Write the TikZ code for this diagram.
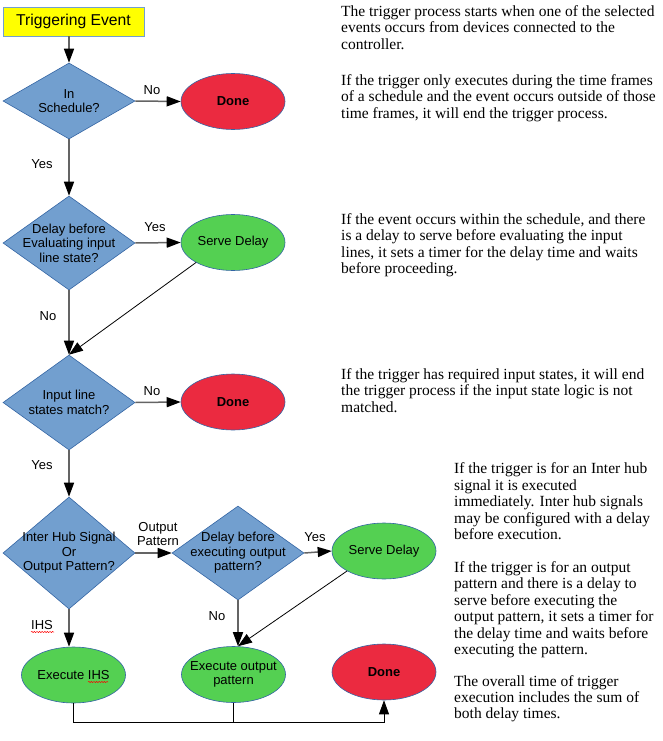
\documentclass[tikz,border=0pt]{standalone}
\usepackage{fontspec}
\setmainfont{Liberation Serif}
\newfontfamily\diafont{Liberation Sans}
\usetikzlibrary{shapes.geometric,arrows.meta,decorations.pathmorphing}
\definecolor{diafill}{RGB}{114,159,207}
\definecolor{diaedge}{RGB}{52,101,164}
\definecolor{redfill}{RGB}{235,42,64}
\definecolor{greenfill}{RGB}{84,208,82}
\definecolor{yellowfill}{RGB}{255,255,0}
\definecolor{linegray}{RGB}{100,100,100}
\begin{document}
\begin{tikzpicture}[x=1pt,y=-1pt,
  font=\diafont\fontsize{13}{14.5}\selectfont,
  dec/.style={diamond, draw=diaedge, fill=diafill, inner sep=0pt, minimum width=132pt, line width=0.6pt},
  term/.style={ellipse, draw=diaedge, fill=#1, minimum width=104pt, minimum height=56pt, inner sep=0pt, line width=0.6pt},
  startbox/.style={rectangle, draw=diafill, fill=yellowfill, minimum width=141pt, minimum height=29pt, inner sep=0pt, line width=0.8pt, font=\diafont\fontsize{15.7}{17}\selectfont},
  conn/.style={draw=linegray, line width=1.5pt, -{Triangle[length=14pt,width=10pt,color=black]}},
  diag/.style={draw=black, line width=0.8pt, -{Triangle[length=14pt,width=10pt,color=black]}},
  plain/.style={draw=black, line width=0.8pt},
  lab/.style={inner sep=0pt, align=center},
  para/.style={anchor=north west, inner sep=0pt, align=left, font=\rmfamily\fontsize{15.5}{16.4}\selectfont},
  squig/.style={draw=red, line width=0.5pt, decorate, decoration={snake, amplitude=0.6pt, segment length=2.6pt}}
]
\useasboundingbox (0,0) rectangle (663,741);

% nodes
\node[startbox] (trig) at (73.5,21.5) {Triggering Event};
\node[dec, minimum height=76pt, label={[align=center]center:{In\\Schedule?}}] (d1) at (69,101) {};
\node[term=redfill, label={[font=\diafont\bfseries\fontsize{13}{14.5}\selectfont]center:Done}] (done1) at (233,101.5) {};
\node[dec, minimum height=94pt, label={[align=center]center:{Delay before\\Evaluating input\\line state?}}] (d2) at (69,243) {};
\node[term=greenfill, label={center:Serve Delay}] (sd1) at (233,242.5) {};
\node[dec, minimum height=95pt, label={[align=center]center:{Input line\\states match?}}] (d3) at (69,402.5) {};
\node[term=redfill, label={[font=\diafont\bfseries\fontsize{13}{14.5}\selectfont]center:Done}] (done2) at (233,402) {};
\node[dec, minimum height=112pt, label={[align=center]center:{Inter Hub Signal\\Or\\Output Pattern?}}] (d4) at (69,553) {};
\node[dec, minimum height=94pt, label={[align=center]center:{Delay before\\executing output\\pattern?}}] (d5) at (238,553) {};
\node[term=greenfill, label={center:Serve Delay}] (sd2) at (384,551) {};
\node[term=greenfill, label={center:Execute IHS}] (ih) at (73.5,675) {};
\node[term=greenfill, label={[align=center]center:{Execute output\\pattern}}] (eo) at (233.5,674.5) {};
\node[term=redfill, label={[font=\diafont\bfseries\fontsize{13}{14.5}\selectfont]center:Done}] (done3) at (384,672) {};
\coordinate (bot) at (0,722);

% connectors
\draw[conn] (trig.south -| d1.north) -- (d1.north);
\draw[conn] (d1.east) -- (done1.west);
\draw[conn] (d1.south) -- (d2.north);
\draw[conn] (d2.east) -- (sd1.west);
\draw[diag] (sd1.south west) -- (d3.north);
\draw[conn] (d2.south) -- (d3.north);
\draw[conn] (d3.east) -- (done2.west);
\draw[conn] (d3.south) -- (d4.north);
\draw[conn] (d4.east) -- (d5.west);
\draw[conn] (d5.east) -- (sd2.west);
\draw[diag] (sd2.south west) -- (d5.south |- eo.north);
\draw[conn] (d5.south) -- (d5.south |- eo.north);
\draw[conn] (d4.south) -- (d4.south |- ih.north);
\draw[plain] (eo.south) -- (eo.south |- bot);
\draw[diag] (ih.south) -- (ih.south |- bot) -| (done3.south);

% connector labels
\node[lab] (l1) at (152,90) {No};
\node[lab] (l2) at (42,164) {Yes};
\node[lab] (l3) at (155,227) {Yes};
\node[lab] (l4) at (48,316) {No};
\node[lab] (l5) at (152,391) {No};
\node[lab] (l6) at (42,465) {Yes};
\node[lab] (l7) at (158,534) {Output\\Pattern};
\node[lab] (l8) at (315,537) {Yes};
\node[lab] (l9) at (217,616) {No};
\node[lab] (l10) at (42,625) {IHS};
\draw[squig] (31,632) -- (54,632);
\draw[squig] (88,682) -- (108,682);

% explanatory text
\node[para] (t1) at (341,5.2) {The trigger process starts when one of the selected\\events occurs from devices connected to the\\controller.};
\node[para] (t2) at (341,74.4) {If the trigger only executes during the time frames\\of a schedule and the event occurs outside of those\\time frames, it will end the trigger process.};
\node[para] (t3) at (341,213.2) {If the event occurs within the schedule, and there\\is a delay to serve before evaluating the input\\lines, it sets a timer for the delay time and waits\\before proceeding.};
\node[para] (t4) at (341,368.4) {If the trigger has required input states, it will end\\the trigger process if the input state logic is not\\matched.};
\node[para] (t5) at (454,462.8) {If the trigger is for an Inter hub\\signal it is executed\\immediately. Inter hub signals\\may be configured with a delay\\before execution.};
\node[para] (t6) at (454,561.4) {If the trigger is for an output\\pattern and there is a delay to\\serve before executing the\\output pattern, it sets a timer for\\the delay time and waits before\\executing the pattern.};
\node[para] (t7) at (454,675.0) {The overall time of trigger\\execution includes the sum of\\both delay times.};
\end{tikzpicture}
\end{document}
